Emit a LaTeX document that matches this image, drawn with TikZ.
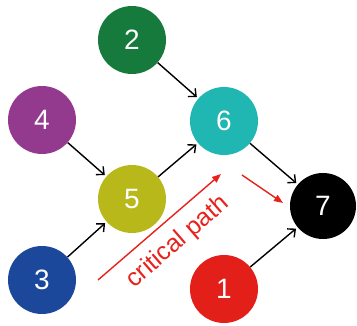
\documentclass[tikz,border=0pt]{standalone}
\usepackage{fontspec}
\setmainfont{Liberation Sans}
\usepackage{xcolor}
\usetikzlibrary{calc, arrows.meta}

\definecolor{nodegreen}{HTML}{167A3C}
\definecolor{nodepurple}{HTML}{943A8E}
\definecolor{nodeteal}{HTML}{20B6B2}
\definecolor{nodeolive}{HTML}{B9B81A}
\definecolor{nodeblue}{HTML}{1B489B}
\definecolor{nodered}{HTML}{E31F1A}
\definecolor{pathred}{HTML}{E8211B}

\begin{document}
\begin{tikzpicture}[x=1pt, y=-1pt,
	task/.style = {circle, minimum size=68pt, inner sep=0pt, text=white,
		font=\fontsize{28}{30}\selectfont},
	link/.style = {-{Straight Barb[length=6pt, width=11pt]}, line width=1.4pt, shorten >=2pt},
	crit/.style = {-{Triangle[length=9pt, width=7pt]}, line width=1.4pt, draw=pathred, fill=pathred}]
	\useasboundingbox (0,0) rectangle (357,326);
	
	\node [task, fill=nodegreen] (t2) at (132,40) {2};
	\node [task, fill=nodepurple] (t4) at (42,120) {4};
	\node [task, fill=nodeteal] (t6) at (224,121) {6};
	\node [task, fill=nodeolive] (t5) at (132,199) {5};
	\node [task, fill=black, minimum size=66pt] (t7) at (323,206) {7};
	\node [task, fill=nodeblue] (t3) at (42,280) {3};
	\node [task, fill=nodered] (t1) at (224,289) {1};
	
	\draw [link] (t2) -- (t6);
	\draw [link] (t4) -- (t5);
	\draw [link] (t3) -- (t5);
	\draw [link] (t5) -- (t6);
	\draw [link] (t6) -- (t7);
	\draw [link] (t1) -- (t7);
	
	% critical path markers
	\coordinate (cpa) at (98,280);
	\coordinate (cpb) at (221,174);
	\coordinate (cpc) at (242,175);
	\coordinate (cpd) at (283,203);
	\draw [crit] (cpa) -- (cpb);
	\draw [crit] (cpc) -- (cpd);
	\node [text=pathred, rotate=41, font=\fontsize{25}{27}\selectfont] (cptext) at (178,242) {critical path};
\end{tikzpicture}
\end{document}
